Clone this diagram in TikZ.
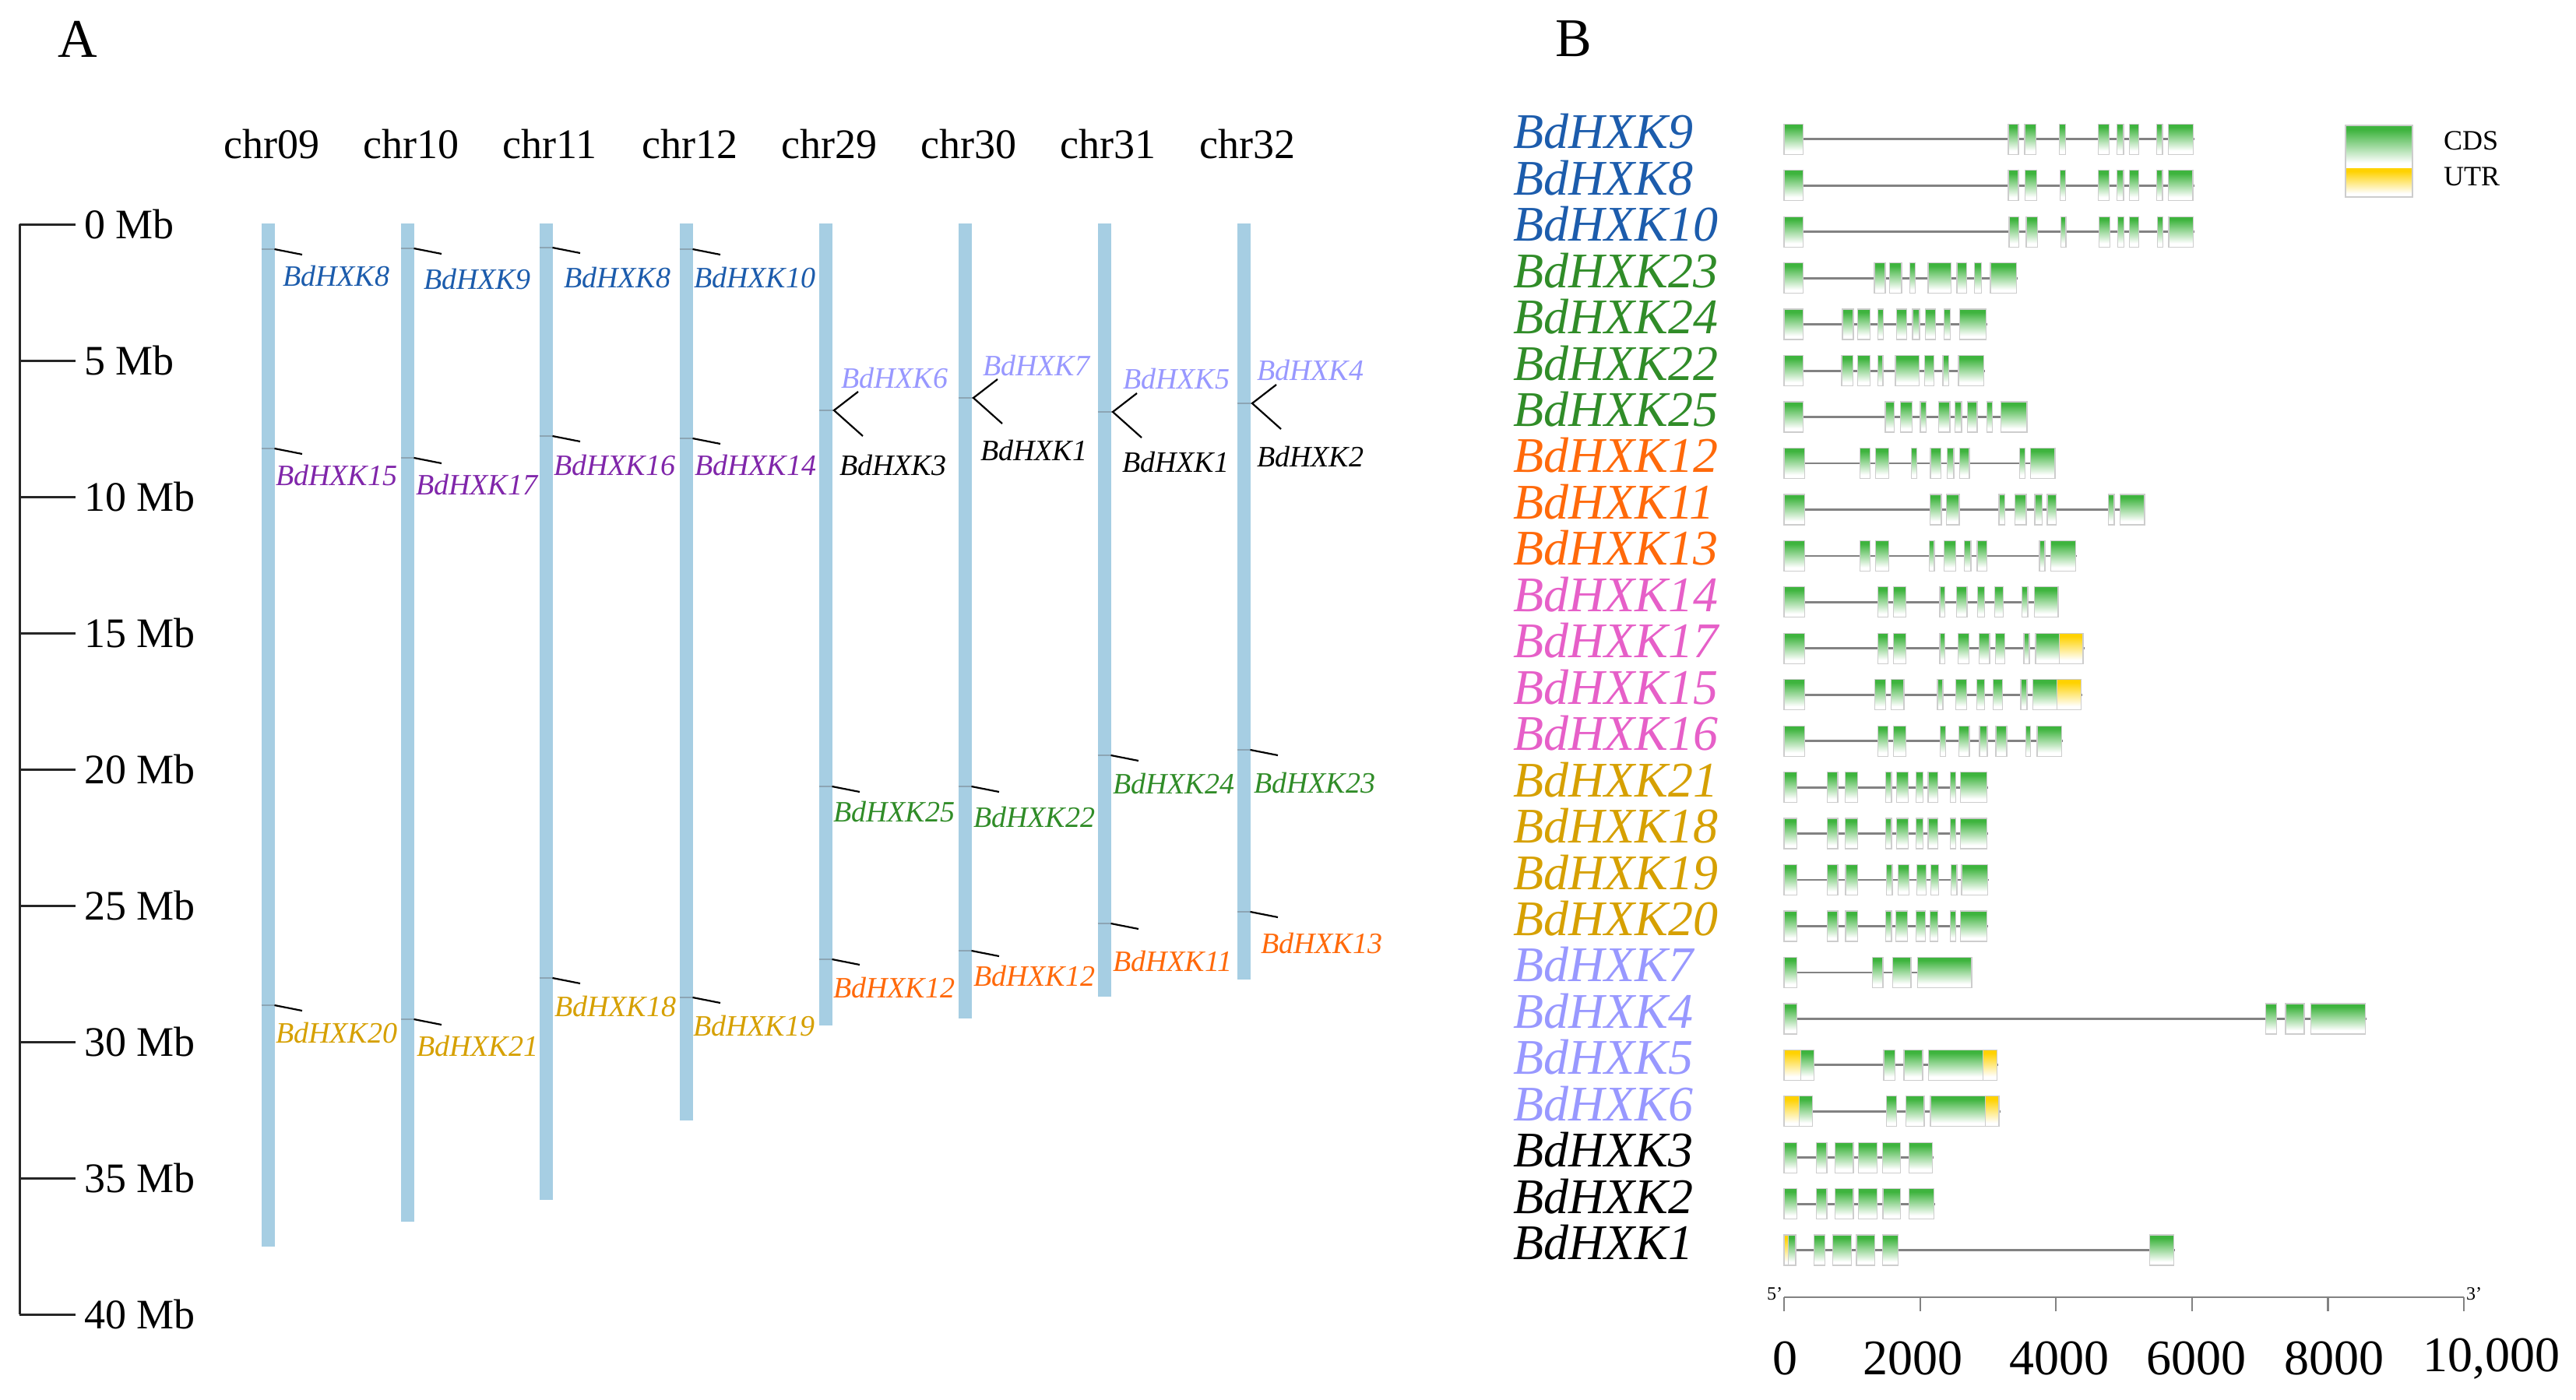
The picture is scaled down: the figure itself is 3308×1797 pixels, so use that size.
\documentclass[tikz,border=0pt]{standalone}
\usepackage{fontspec}
\setmainfont{Liberation Serif}
\definecolor{chrblue}{RGB}{166,206,227}
\definecolor{lblue}{RGB}{28,92,172}
\definecolor{lpurple}{RGB}{128,38,170}
\definecolor{lgreen}{RGB}{48,140,40}
\definecolor{lorange}{RGB}{255,105,10}
\definecolor{lgold}{RGB}{214,160,0}
\definecolor{llav}{RGB}{152,152,255}
\definecolor{lpink}{RGB}{230,95,200}
\definecolor{cdsg}{RGB}{62,180,62}
\definecolor{utry}{RGB}{255,210,0}
\definecolor{boxgray}{RGB}{205,205,205}
\definecolor{intr}{RGB}{130,130,130}
\definecolor{stubc}{RGB}{140,165,180}
\pgfdeclareverticalshading{exc}{100bp}{color(0bp)=(white); color(31bp)=(white); color(70bp)=(cdsg); color(100bp)=(cdsg)}
\pgfdeclareverticalshading{exu}{100bp}{color(0bp)=(white); color(31bp)=(white); color(70bp)=(utry); color(100bp)=(utry)}
\newcommand\generow[3]{%
  \draw[intron] (54,#1) -- (#2+4,#1);
  \foreach \a/\b/\s in {#3}{\shadedraw[shading=\s, draw=boxgray, line width=1.3pt] (\a,#1-19.5) rectangle (\b,#1+19.5);}
}
\begin{document}
\begin{tikzpicture}[x=1pt,y=-1pt,
  every node/.style={inner sep=0pt,outer sep=0pt},
  alab/.style={font=\fontsize{38}{40}\selectfont\itshape, anchor=west},
  blab/.style={font=\fontsize{64}{66}\selectfont\itshape, anchor=base west},
  chrlab/.style={font=\fontsize{54}{56}\selectfont},
  mblab/.style={font=\fontsize{54}{56}\selectfont, anchor=west},
  numlab/.style={font=\fontsize{64}{66}\selectfont},
  stub/.style={stubc, line width=1.5pt},
  mkline/.style={black, line width=2.2pt},
  intron/.style={intr, line width=2.8pt},
  axisline/.style={black!85, line width=3pt}]
\fill[white] (0,0) rectangle (3308,1797);
\useasboundingbox (0,0) rectangle (3308,1797);

% panel letters
\node[font=\fontsize{70}{72}\selectfont] (pA) at (100,50) {A};
\node[font=\fontsize{70}{72}\selectfont] (pB) at (2021,50) {B};

% Mb axis
\coordinate (ax0) at (25,288);
\coordinate (ax40) at (25,1688);
\draw[axisline] (ax0) -- (ax40);
\foreach \i/\v in {0/0,1/5,2/10,3/15,4/20,5/25,6/30,7/35,8/40}{
  \coordinate (tk\i) at (25,288+175*\i);
  \coordinate (tke\i) at (97,288+175*\i);
  \draw[axisline] (tk\i) -- (tke\i);
  \node[mblab] (mb\i) at (108,288+175*\i) {\v{} Mb};
}

% chromosomes
\foreach \n/\x/\b/\t in {c1/344/1601/chr09, c2/523/1569/chr10, c3/701/1541/chr11, c4/881/1439/chr12,
  c5/1060/1317/chr29, c6/1239/1308/chr30, c7/1418/1280/chr31, c8/1597/1258/chr32}{
  \fill[chrblue] (\x-8.5,287) rectangle (\x+8.5,\b);
  \node[chrlab] (\n) at (\x+5,185) {\t};
}

% single markers
\foreach \n/\bx/\my/\lx/\ly/\c/\t in {
 a1/344/320/363/355/lblue/BdHXK8,
 a2/344/576/354/610/lpurple/BdHXK15,
 a3/344/1291/354/1326/lgold/BdHXK20,
 a4/523/319/544/359/lblue/BdHXK9,
 a5/523/588/534/622/lpurple/BdHXK17,
 a6/523/1309/535/1343/lgold/BdHXK21,
 a7/701/318/724/357/lblue/BdHXK8,
 a8/701/560/711/597/lpurple/BdHXK16,
 a9/701/1256/712/1292/lgold/BdHXK18,
 a10/881/320/891/357/lblue/BdHXK10,
 a11/881/563/892/597/lpurple/BdHXK14,
 a12/881/1281/890/1317/lgold/BdHXK19,
 a13/1060/1010/1070/1042/lgreen/BdHXK25,
 a14/1060/1232/1070/1268/lorange/BdHXK12,
 a15/1239/1010/1250/1049/lgreen/BdHXK22,
 a16/1239/1221/1250/1253/lorange/BdHXK12,
 a17/1418/970/1429/1006/lgreen/BdHXK24,
 a18/1418/1186/1429/1234/lorange/BdHXK11,
 a19/1597/963/1610/1005/lgreen/BdHXK23,
 a20/1597/1171/1619/1211/lorange/BdHXK13}{
  \coordinate (\n-s) at (\bx-8.5,\my);
  \coordinate (\n-e) at (\bx+8.5,\my);
  \coordinate (\n-t) at (\bx+44,\my+7);
  \draw[stub] (\n-s) -- (\n-e);
  \draw[mkline] (\n-e) -- (\n-t);
  \node[alab, text=\c] (\n-l) at (\lx,\ly) {\t};
}

% forked markers
\foreach \n/\bx/\vy/\ux/\uy/\ut/\dx/\dy/\dt in {
 f1/1060/527/1080/486/BdHXK6/1078/598/BdHXK3,
 f2/1239/511/1262/470/BdHXK7/1259/578/BdHXK1,
 f3/1418/529/1442/487/BdHXK5/1441/594/BdHXK1,
 f4/1597/518/1614/476/BdHXK4/1614/586/BdHXK2}{
  \coordinate (\n-s) at (\bx-8.5,\vy);
  \coordinate (\n-e) at (\bx+8.5,\vy);
  \coordinate (\n-v) at (\bx+11,\vy);
  \coordinate (\n-u) at (\bx+42,\vy-24);
  \coordinate (\n-d) at (\bx+48,\vy+33);
  \draw[stub] (\n-s) -- (\n-v);
  \draw[mkline] (\n-u) -- (\n-v) -- (\n-d);
  \node[alab, text=llav] (\n-ul) at (\ux,\uy) {\ut};
  \node[alab, text=black] (\n-dl) at (\dx,\dy) {\dt};
}

% panel B labels
\foreach \i/\t/\c in {1/BdHXK9/lblue,2/BdHXK8/lblue,3/BdHXK10/lblue,4/BdHXK23/lgreen,5/BdHXK24/lgreen,
  6/BdHXK22/lgreen,7/BdHXK25/lgreen,8/BdHXK12/lorange,9/BdHXK11/lorange,10/BdHXK13/lorange,
  11/BdHXK14/lpink,12/BdHXK17/lpink,13/BdHXK15/lpink,14/BdHXK16/lpink,15/BdHXK21/lgold,
  16/BdHXK18/lgold,17/BdHXK19/lgold,18/BdHXK20/lgold,19/BdHXK7/llav,20/BdHXK4/llav,
  21/BdHXK5/llav,22/BdHXK6/llav,23/BdHXK3/black,24/BdHXK2/black,25/BdHXK1/black}{
  \node[blab, text=\c] (g\i) at (1943,{178.8+59.45*(\i-1)+12}) {\t};
}

% gene structures (x in zoom units: full x = 2270 + u/2.703)
\begin{scope}[xshift=2270pt, x=0.36996pt]
\generow{178.8}{1478}{57/123/exc,835/870/exc,892/932/exc,1013/1033/exc,1148/1185/exc,1213/1235/exc,1255/1288/exc,1350/1370/exc,1390/1478/exc}
\generow{238.3}{1476}{57/123/exc,835/870/exc,893/933/exc,1015/1033/exc,1148/1185/exc,1213/1235/exc,1255/1287/exc,1350/1370/exc,1390/1476/exc}
\generow{297.7}{1478}{57/123/exc,838/872/exc,897/937/exc,1018/1035/exc,1150/1188/exc,1215/1237/exc,1255/1288/exc,1352/1372/exc,1392/1478/exc}
\generow{357.2}{863}{57/123/exc,370/408/exc,423/465/exc,493/513/exc,557/637/exc,657/690/exc,718/742/exc,773/863/exc}
\generow{416.6}{758}{57/123/exc,259/297/exc,313/355/exc,383/402/exc,447/483/exc,503/527/exc,548/582/exc,613/633/exc,667/758/exc}
\generow{476.1}{750}{57/123/exc,257/295/exc,312/355/exc,382/400/exc,443/525/exc,545/577/exc,608/628/exc,662/750/exc}
\generow{535.5}{900}{57/123/exc,408/440/exc,460/502/exc,530/550/exc,593/632/exc,650/673/exc,693/727/exc,760/780/exc,810/900/exc}
\generow{595.0}{997}{57/128/exc,320/355/exc,375/420/exc,498/518/exc,565/602/exc,623/646/exc,667/700/exc,875/893/exc,913/997/exc}
\generow{654.4}{1308}{57/128/exc,563/603/exc,620/665/exc,803/823/exc,858/897/exc,927/952/exc,970/1002/exc,1183/1203/exc,1223/1308/exc}
\generow{713.9}{1068}{57/128/exc,320/355/exc,375/420/exc,560/578/exc,613/653/exc,683/705/exc,727/760/exc,943/962/exc,982/1068/exc}
\generow{773.3}{1008}{57/128/exc,382/417/exc,437/480/exc,597/615/exc,655/692/exc,728/753/exc,787/817/exc,883/903/exc,925/1008/exc}
\generow{832.8}{1095}{57/128/exc,382/417/exc,437/480/exc,597/615/exc,660/698/exc,733/770/exc,790/823/exc,889/908/exc,930/1013/exc,1013/1095/exu}
\generow{892.2}{1087}{57/128/exc,372/409/exc,428/473/exc,589/608/exc,652/690/exc,726/752/exc,783/815/exc,878/900/exc,920/1005/exc,1005/1087/exu}
\generow{951.7}{1020}{57/128/exc,382/417/exc,437/480/exc,598/617/exc,663/700/exc,735/762/exc,792/830/exc,895/913/exc,935/1020/exc}
\generow{1011.1}{760}{57/102/exc,207/243/exc,268/313/exc,410/430/exc,447/487/exc,515/540/exc,557/590/exc,633/653/exc,668/760/exc}
\generow{1070.6}{760}{57/102/exc,207/243/exc,268/313/exc,410/430/exc,447/487/exc,515/540/exc,557/590/exc,633/653/exc,668/760/exc}
\generow{1130.0}{763}{57/102/exc,207/243/exc,270/313/exc,413/432/exc,452/490/exc,518/550/exc,567/593/exc,637/657/exc,673/763/exc}
\generow{1189.5}{760}{57/102/exc,207/243/exc,270/313/exc,410/430/exc,445/485/exc,515/548/exc,563/590/exc,633/653/exc,668/760/exc}
\generow{1248.9}{708}{57/102/exc,363/400/exc,433/497/exc,520/708/exc}
\generow{1308.4}{2074}{57/102/exc,1728/1766/exc,1797/1862/exc,1885/2074/exc}
\generow{1367.8}{795}{57/115/exu,115/160/exc,403/441/exc,473/538/exc,558/748/exc,748/795/exu}
\generow{1427.3}{803}{57/110/exu,110/155/exc,412/448/exc,480/543/exc,565/755/exc,755/803/exu}
\generow{1486.7}{572}{57/102/exc,168/205/exc,233/297/exc,315/380/exc,398/460/exc,490/572/exc}
\generow{1546.2}{577}{57/102/exc,168/205/exc,233/297/exc,315/380/exc,400/460/exc,490/577/exc}
\generow{1605.6}{1410}{57/72/exu,72/97/exc,160/198/exc,225/290/exc,308/372/exc,398/453/exc,1325/1410/exc}
\end{scope}

% legend
\shade[shading=exc] (3012,161) rectangle (3098,216);
\shade[shading=exu] (3012,216) rectangle (3098,253);
\draw[boxgray, line width=1.5pt] (3012,161) rectangle (3098,253);
\node[font=\fontsize{36}{38}\selectfont, anchor=west] (lcds) at (3138,181) {CDS};
\node[font=\fontsize{36}{38}\selectfont, anchor=west] (lutr) at (3138,227) {UTR};

% scale bar
\coordinate (sb0) at (2291,1666);
\coordinate (sb1) at (3164,1666);
\draw[intr, line width=2.6pt] (sb0) -- (sb1);
\foreach \k in {0,...,5}{
  \coordinate (st\k) at (2291+174.6*\k,1666);
  \coordinate (se\k) at (2291+174.6*\k,1684);
  \draw[intr, line width=2.2pt] (st\k) -- (se\k);
}
\node[font=\fontsize{24}{26}\selectfont, anchor=south east] (five) at (2289,1670) {5'};
\node[font=\fontsize{24}{26}\selectfont, anchor=south west] (three) at (3167,1670) {3'};
\foreach \n/\x/\t in {n0/2292/0, n1/2456/2000, n2/2644/4000, n3/2820/6000, n4/2997/8000, n5/3199/{10,000}}{
  \node[numlab] (\n) at (\x,1745) {\t};
}
\end{tikzpicture}
\end{document}
